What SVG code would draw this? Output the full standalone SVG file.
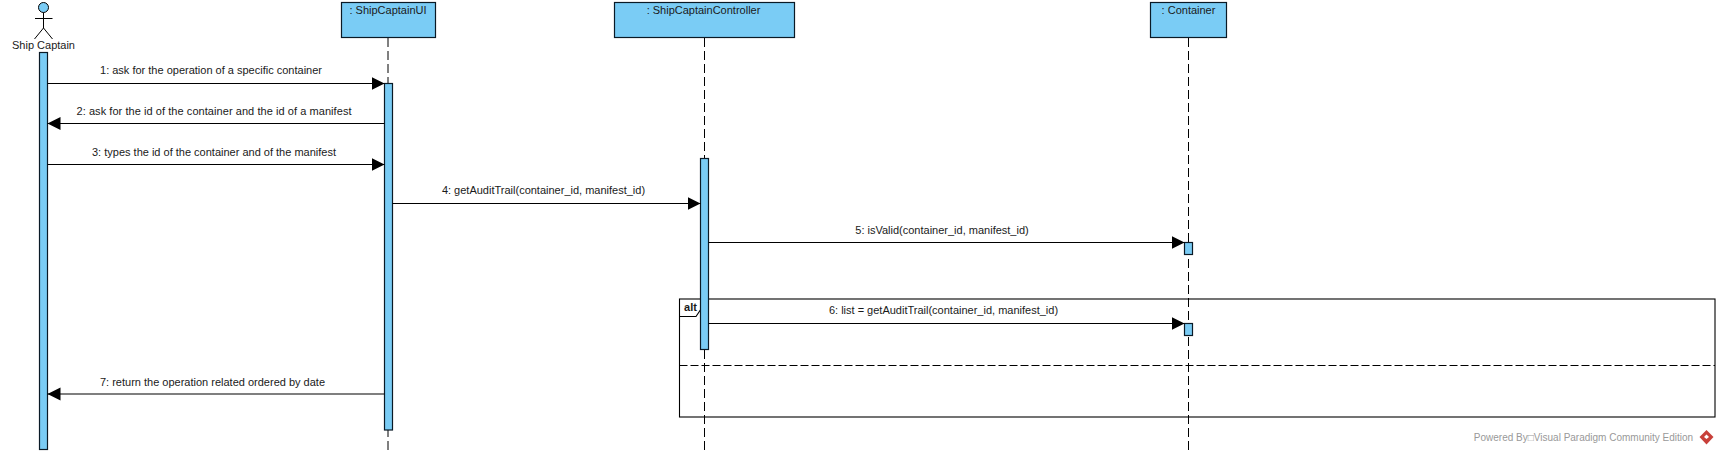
<svg xmlns="http://www.w3.org/2000/svg" width="1718" height="454" viewBox="0 0 1718 454">
<style>
text{font-family:"Liberation Sans",Arial,sans-serif;font-size:11px;fill:#1a1a1a;text-anchor:middle}
.box{fill:#7accf5;stroke:#0a1a26;stroke-width:1.2}
.life{stroke:#000;stroke-width:1;stroke-dasharray:9 4;fill:none}
.msg{stroke:#000;stroke-width:1.1;fill:none;marker-end:url(#arrow)}
.frame{fill:none;stroke:#000;stroke-width:1.1}
.actor{fill:none;stroke:#000;stroke-width:1}
</style>
<defs><marker id="arrow" markerUnits="userSpaceOnUse" markerWidth="14" markerHeight="14" refX="13" refY="6.5" orient="auto"><path d="M0 0L13 6.5L0 13Z" fill="#000"/></marker></defs>
<rect width="1718" height="454" fill="#fff"/>
<g id="lifelines">
<path class="life" d="M388 38V450"/><path class="life" d="M704.5 38V450"/><path class="life" d="M1188.5 38V450"/>
</g>
<g id="frame-alt">
<rect class="frame" x="679.5" y="299" width="1035.5" height="118"/>
<path class="frame" d="M679.5 316.5H696L701 309V299"/>
<path class="frame" d="M679.5 365.5H1715" stroke-dasharray="8 3"/>
<text x="690.5" y="310.5" style="font-weight:bold">alt</text>
</g>
<g id="actor-ship-captain">
<circle cx="43.5" cy="7.5" r="5" fill="#7accf5" stroke="#000"/>
<path class="actor" d="M43.5 12.5V28M35 18.5H52.5M34.5 39L43.5 28L52.5 39"/>
<text x="43.5" y="49">Ship Captain</text>
<rect class="box" x="39.5" y="52.5" width="8" height="397"/>
</g>
<g id="node-ui">
<rect class="box" x="341.5" y="2.5" width="94" height="35"/>
<text x="388" y="14">: ShipCaptainUI</text>
<rect class="box" x="384.5" y="83.5" width="8" height="346.5"/>
</g>
<g id="node-controller">
<rect class="box" x="614.5" y="2.5" width="180" height="35"/>
<text x="703.5" y="14">: ShipCaptainController</text>
<rect class="box" x="700.5" y="158.5" width="8" height="191"/>
</g>
<g id="node-container">
<rect class="box" x="1150.5" y="2.5" width="76" height="35"/>
<text x="1188.5" y="14">: Container</text>
<rect class="box" x="1184.5" y="242.5" width="8" height="12"/>
<rect class="box" x="1184.5" y="323.5" width="8" height="12"/>
</g>
<g id="connectors">
<path class="msg" d="M47.5 83.5H384.5"/>
<path class="msg" d="M384.5 123.5H47.5"/>
<path class="msg" d="M47.5 164.5H384.5"/>
<path class="msg" d="M392.5 203.5H700.5"/>
<path class="msg" d="M708.5 242.5H1184.5"/>
<path class="msg" d="M708.5 323.5H1184.5"/>
<path class="msg" d="M384.5 394H47.5"/>
<text x="211" y="74">1: ask for the operation of a specific container</text>
<text x="214" y="115" textLength="275">2: ask for the id of the container and the id of a manifest</text>
<text x="214" y="156">3: types the id of the container and of the manifest</text>
<text x="543.5" y="194">4: getAuditTrail(container_id, manifest_id)</text>
<text x="942" y="234">5: isValid(container_id, manifest_id)</text>
<text x="943.5" y="314">6: list = getAuditTrail(container_id, manifest_id)</text>
<text x="212.5" y="386">7: return the operation related ordered by date</text>
</g>
<g id="watermark">
<text x="1583.5" y="441" style="fill:#999;font-size:10px">Powered By□Visual Paradigm Community Edition</text>
<path d="M1706.5 430L1713.5 437L1706.5 444.5L1699.5 437Z" fill="#c8403a"/>
<path d="M1706.5 434.5L1709 437L1706.5 439L1704 437Z" fill="#fff"/>
</g>
</svg>
